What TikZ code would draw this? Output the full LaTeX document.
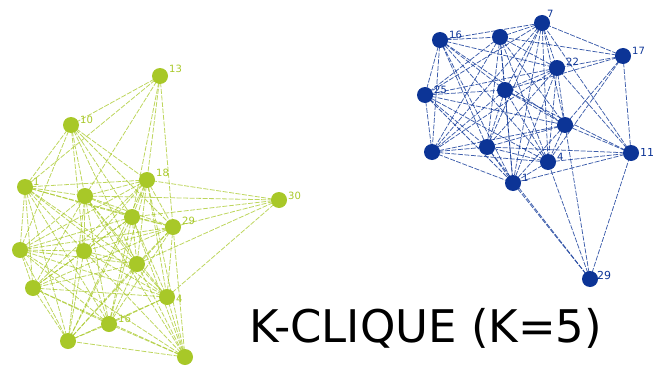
\documentclass[tikz,border=0pt]{standalone}
\usepackage{fontspec}
\setmainfont{DejaVu Sans}
\begin{document}
\begin{tikzpicture}[x=1pt,y=-1pt,
  gcol/.style={color={rgb,255:red,168;green,200;blue,40}},
  bcol/.style={color={rgb,255:red,12;green,52;blue,150}},
  gedge/.style={gcol,line width=0.8pt,dash pattern=on 5pt off 1.5pt,opacity=0.75},
  bedge/.style={bcol,line width=0.75pt,dash pattern=on 5pt off 1.5pt,opacity=0.8},
  gdot/.style={circle,fill,gcol,inner sep=0pt,minimum size=16pt},
  bdot/.style={circle,fill,bcol,inner sep=0pt,minimum size=16pt},
  glab/.style={gcol,font=\fontsize{10}{10}\selectfont,inner sep=1pt},
  blab/.style={bcol,font=\fontsize{10}{10}\selectfont,inner sep=1pt}]
\useasboundingbox (0,0) rectangle (660,369);

% ---- green community: node positions
\foreach \n/\x/\y in {g13/160/76,g10/71/125,g1/25/187,gA/85/196,g18/147/180,
  gB/132/217,g29/173/227,g30/279/200,gC/20/250,gD/84/251,gE/137/264,
  gF/33/288,g4/167/297,gG/109/324,gH/68/341,gI/185/357}
  \coordinate (\n) at (\x,\y);

% dense core of the green community
\foreach \a [count=\i] in {g1,gA,g18,gB,g29,gC,gD,gE,gF,g4,gG,gH}
  \foreach \b [count=\j] in {g1,gA,g18,gB,g29,gC,gD,gE,gF,g4,gG,gH}
    {\ifnum\j>\i \draw[gedge] (\a) -- (\b);\fi}
% outer green links
\foreach \a/\b in {g10/g1,g10/gA,g10/g18,g10/gB,g10/gD,g10/g29,g10/gC,g10/gE,
  g13/g10,g13/gA,g13/g18,g13/g29,g13/gB,g13/g1,
  g30/g18,g30/g29,g30/gB,g30/gA,g30/gE,g30/g4,
  gI/g4,gI/gE,gI/gB,gI/gD,gI/gF,gI/gG,gI/gH,gI/g29,gI/gC,gI/gA,gI/g18}
  \draw[gedge] (\a) -- (\b);

\foreach \n in {g13,g10,g1,gA,g18,gB,g29,g30,gC,gD,gE,gF,g4,gG,gH,gI}
  \node[gdot] (n\n) at (\n) {};

% labels (shifts are on the page: positive yshift moves up)
\node[glab,anchor=west] (l13) at ([xshift=8pt,yshift=7pt]g13) {13};
\node[glab,anchor=west] (l10) at ([xshift=8pt,yshift=5pt]g10) {10};
\node[glab,anchor=west] (l1) at ([xshift=7pt,yshift=5pt]g1) {1};
\node[glab,anchor=west] (l18) at ([xshift=8pt,yshift=7pt]g18) {18};
\node[glab,anchor=west] (l29) at ([xshift=8pt,yshift=6pt]g29) {29};
\node[glab,anchor=west] (l30) at ([xshift=8pt,yshift=4pt]g30) {30};
\node[glab,anchor=west] (l4) at ([xshift=8pt,yshift=-2pt]g4) {4};
\node[glab,anchor=west] (l16g) at ([xshift=8pt,yshift=5pt]gG) {16};

% ---- blue community: node positions
\foreach \n/\x/\y in {b16/440/40,bA/500/37,b7/542/23,b17/623/56,b22/557/68,
  b25/425/95,bB/505/90,bC/565/125,bD/432/152,bE/487/147,b4/548/162,
  b11/631/153,b1/513/183,b29/590/279}
  \coordinate (\n) at (\x,\y);

% dense core of the blue community
\foreach \a [count=\i] in {b16,bA,b7,b22,b25,bB,bC,bD,bE,b4,b1}
  \foreach \b [count=\j] in {b16,bA,b7,b22,b25,bB,bC,bD,bE,b4,b1}
    {\ifnum\j>\i \draw[bedge] (\a) -- (\b);\fi}
% outer blue links
\foreach \a/\b in {b17/b7,b17/bA,b17/b22,b17/bC,b17/bB,b17/b11,b17/b4,
  b11/b22,b11/bC,b11/b4,b11/b1,b11/bB,b11/bE,b11/b7,
  b29/b1,b29/b4,b29/bC,b29/b11,b29/bE}
  \draw[bedge] (\a) -- (\b);

\foreach \n in {b16,bA,b7,b17,b22,b25,bB,bC,bD,bE,b4,b11,b1,b29}
  \node[bdot] (n\n) at (\n) {};

\node[blab,anchor=west] (m16) at ([xshift=8pt,yshift=5pt]b16) {16};
\node[blab,anchor=west] (m7) at ([xshift=4pt,yshift=9pt]b7) {7};
\node[blab,anchor=west] (m17) at ([xshift=8pt,yshift=5pt]b17) {17};
\node[blab,anchor=west] (m22) at ([xshift=8pt,yshift=6pt]b22) {22};
\node[blab,anchor=west] (m25) at ([xshift=8pt,yshift=5pt]b25) {25};
\node[blab,anchor=west] (m4) at ([xshift=8pt,yshift=5pt]b4) {4};
\node[blab,anchor=west] (m1) at ([xshift=8pt,yshift=5pt]b1) {1};
\node[blab,anchor=west,font=\fontsize{11}{11}\selectfont] (m11) at ([xshift=8pt,yshift=1pt]b11) {11};
\node[blab,anchor=west,font=\fontsize{11}{11}\selectfont] (m29) at ([xshift=6pt,yshift=4pt]b29) {29};

% ---- caption
\node[anchor=base west,inner sep=0pt,font=\fontsize{45}{45}\selectfont] (title) at (249,342) {K-CLIQUE (K=5)};
\end{tikzpicture}
\end{document}
